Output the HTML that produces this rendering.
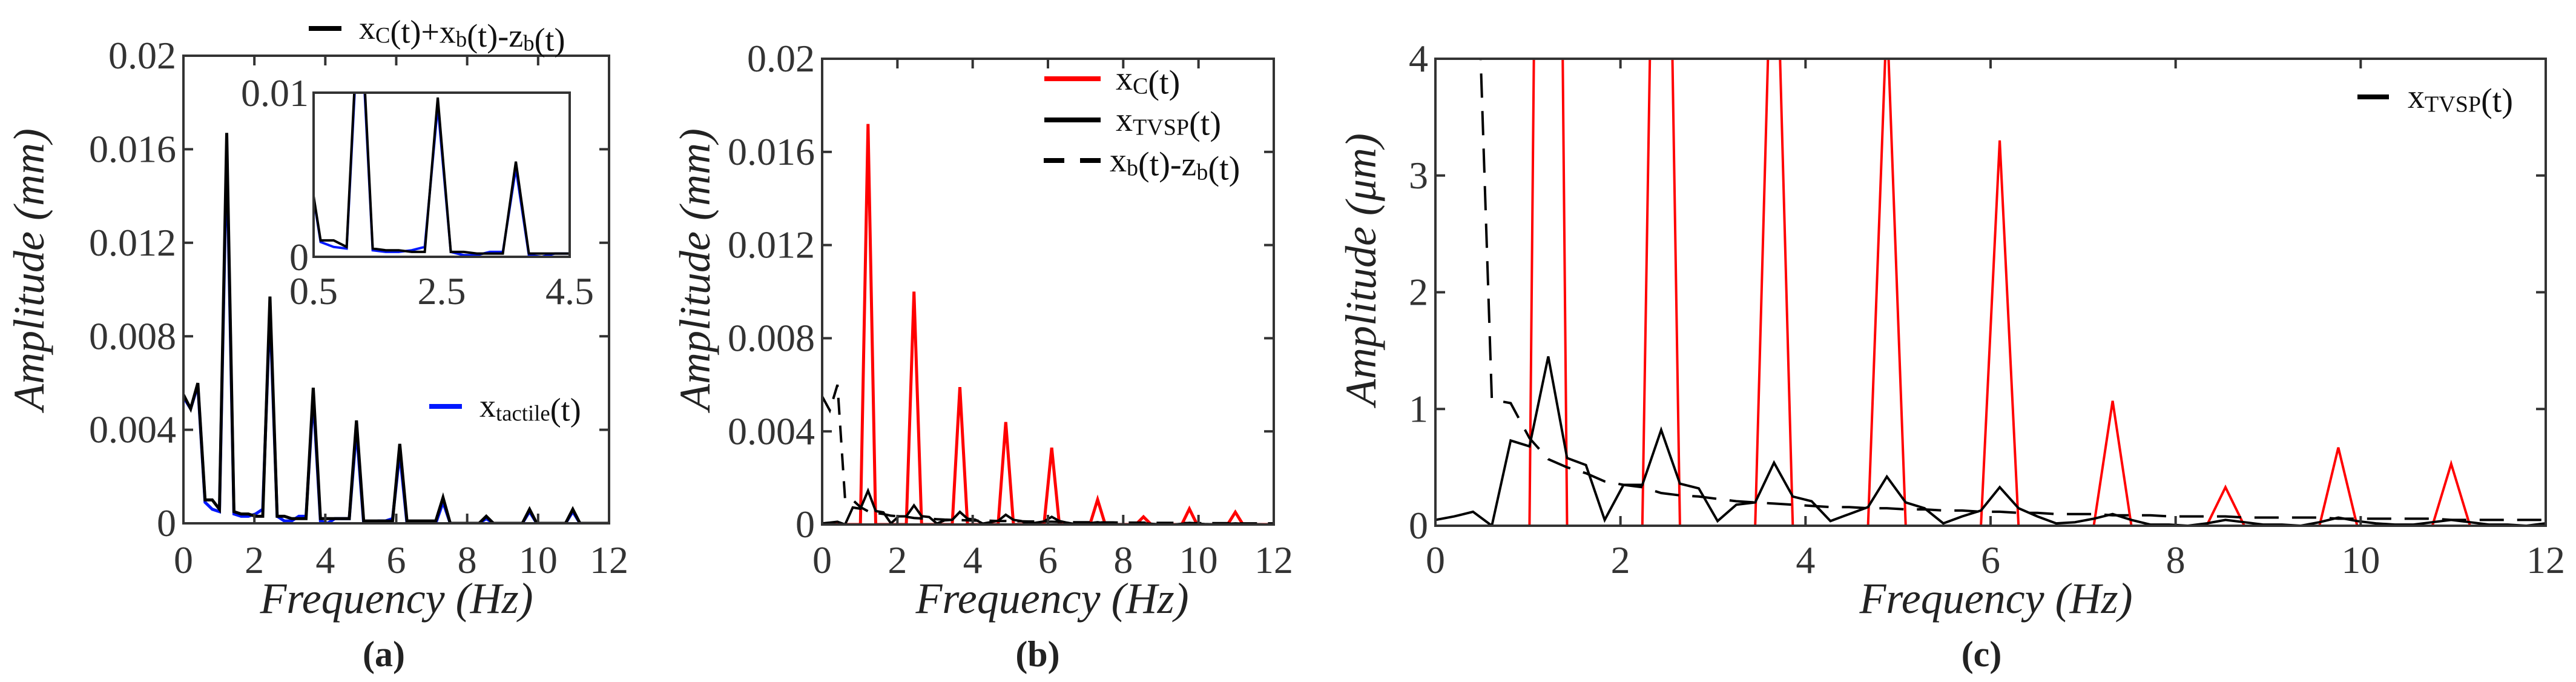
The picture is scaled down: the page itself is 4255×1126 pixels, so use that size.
<!DOCTYPE html>
<html><head><meta charset="utf-8"><style>
html,body{margin:0;padding:0;background:#fff;}
svg{display:block;font-family:"Liberation Serif","DejaVu Serif",serif;}
svg text{font-family:"Liberation Serif","DejaVu Serif",serif;}
</style></head><body>
<svg id="fig" xmlns="http://www.w3.org/2000/svg" width="4255" height="1126" viewBox="0 0 4255 1126"></svg>
<script>
// frequency bins (Hz), step ~0.2033
const binCount = 60;
const binStep = 0.2033;
// panel (a) black: xC+xb-zb (mm)
const sumA = [0.0055,0.0049,0.0060,0.0010,0.0010,0.0006,0.0167,0.0005,0.0004,0.0004,0.0003,0.0003,0.0097,0.0003,0.0003,0.0002,0.0002,0.0002,0.0058,0.0002,0.0002,0.0002,0.0002,0.0002,0.0044,0.0001,0.0001,0.0001,0.0001,0.0001,0.0034,0.0001,0.0001,0.0001,0.0001,0.0001,0.0011,0.0000,0.0000,0.0000,0.0000,0.0000,0.0003,0.0000,0.0000,0.0000,0.0000,0.0000,0.0006,0.0000,0.0000,0.0000,0.0000,0.0000,0.0006,0.0000,0.0000,0.0000,0.0000,0.0000];
// panel (a) blue: x_tactile (mm)
const tactile = [0.0054,0.0049,0.0059,0.0009,0.0006,0.0005,0.0160,0.0004,0.0003,0.0003,0.0004,0.0006,0.0092,0.0003,0.0001,0.0001,0.0003,0.0003,0.0054,0.0001,0.0000,0.0002,0.0002,0.0002,0.0040,0.0000,0.0000,0.0001,0.0001,0.0002,0.0030,0.0000,0.0000,0.0000,0.0000,0.0000,0.0009,0.0000,0.0000,0.0000,0.0000,0.0000,0.0002,0.0000,0.0000,0.0000,0.0000,0.0000,0.0005,0.0000,0.0000,0.0000,0.0000,0.0000,0.0005,0.0000,0.0000,0.0000,0.0000,0.0000];
// xC (µm)
const xc = [0,0,0,0,0,0,17.2,0,0,0,0,0,10.0,0,0,0,0,0,5.9,0,0,0,0,0,4.4,0,0,0,0,0,3.3,0,0,0,0,0,1.07,0,0,0,0,0,0.33,0,0,0,0,0,0.67,0,0,0,0,0,0.53,0,0,0,0,0];
// x_TVSP (µm)
const tvsp = [0.05,0.08,0.12,0.0,0.73,0.68,1.45,0.58,0.52,0.05,0.35,0.35,0.82,0.36,0.32,0.04,0.18,0.2,0.54,0.25,0.21,0.04,0.1,0.16,0.42,0.2,0.15,0.02,0.08,0.13,0.33,0.15,0.08,0.02,0.03,0.06,0.1,0.05,0.01,0.01,0.0,0.02,0.05,0.03,0.01,0.01,0.0,0.03,0.07,0.04,0.02,0.01,0.01,0.03,0.05,0.03,0.01,0.01,0.0,0.02];
// xb - zb (µm)
const xbzb = [5.5,4.9,6.0,1.08,1.05,0.75,0.57,0.5,0.45,0.38,0.35,0.33,0.28,0.26,0.25,0.23,0.21,0.2,0.19,0.18,0.17,0.16,0.16,0.15,0.15,0.14,0.14,0.13,0.13,0.12,0.12,0.11,0.11,0.1,0.1,0.1,0.09,0.09,0.09,0.08,0.08,0.08,0.08,0.07,0.07,0.07,0.07,0.07,0.06,0.06,0.06,0.06,0.06,0.06,0.05,0.05,0.05,0.05,0.05,0.05];
const xTicks = [0,2,4,6,8,10,12];
const yTicksA = ["0","0.004","0.008","0.012","0.016","0.02"];
const yTicksC = ["0","1","2","3","4"];
const insetXTicks = ["0.5","2.5","4.5"];
const insetYTicks = ["0","0.01"];

const NS="http://www.w3.org/2000/svg";
const svg=document.getElementById('fig');
function el(tag,attrs,parent){const e=document.createElementNS(NS,tag);for(const k in attrs)e.setAttribute(k,attrs[k]);(parent||svg).appendChild(e);return e;}
const freqs=[];for(let k=0;k<binCount;k++)freqs.push(k*binStep);

function axes(x0,x1,y0,y1,xmin,xmax,ymin,ymax){
  return {x:v=>x0+(v-xmin)/(xmax-xmin)*(x1-x0), y:v=>y1-(v-ymin)/(ymax-ymin)*(y1-y0), x0,x1,y0,y1};
}
let clipId=0;
function clip(ax){const id='c'+(clipId++);const cp=el('clipPath',{id});el('rect',{x:ax.x0,y:ax.y0-2,width:ax.x1-ax.x0,height:ax.y1-ax.y0+2},cp);return 'url(#'+id+')';}
function series(ax,vals,scale,attrs,name,cl){
  let d='';vals.forEach((v,i)=>{d+=(i?'L':'M')+ax.x(freqs[i]).toFixed(1)+','+ax.y(v*scale).toFixed(1);});
  const p=el('path',Object.assign({d,fill:'none','stroke-linejoin':'miter','clip-path':cl},attrs));
  
  
  return p;
}
function frame(ax,name){
  const r=el('rect',{x:ax.x0,y:ax.y0,width:ax.x1-ax.x0,height:ax.y1-ax.y0,fill:'none',stroke:'#333','stroke-width':4});
  
  
}
function xTicksDraw(ax,ticks,labels,fs,ly,tl,prefix){
  ticks.forEach((t,i)=>{const X=ax.x(t);
    el('line',{x1:X,y1:ax.y1,x2:X,y2:ax.y1-tl,stroke:'#333','stroke-width':4});
    el('line',{x1:X,y1:ax.y0,x2:X,y2:ax.y0+tl,stroke:'#333','stroke-width':4});
    const tx=el('text',{x:X,y:ly,'font-size':fs,'text-anchor':'middle',fill:'#333'});tx.textContent=labels[i];
    
    
  });
}
function yTicksDraw(ax,vals,labels,fs,tl,prefix){
  vals.forEach((v,i)=>{const Y=ax.y(v);
    el('line',{x1:ax.x0,y1:Y,x2:ax.x0+tl,y2:Y,stroke:'#333','stroke-width':4});
    el('line',{x1:ax.x1,y1:Y,x2:ax.x1-tl,y2:Y,stroke:'#333','stroke-width':4});
    const tx=el('text',{x:ax.x0-12,y:Y+fs*0.33,'font-size':fs,'text-anchor':'end',fill:'#333'});tx.textContent=labels[i];
    
    
  });
}
function label(x,y,txt,fs,opts,name){
  const t=el('text',Object.assign({x,y,'font-size':fs,'text-anchor':'middle',fill:'#222'},opts||{}));t.textContent=txt;
  
  
  return t;
}
function richText(x,y,parts,fs,name){
  const t=el('text',{x,y,'font-size':fs,fill:'#111'});
  parts.forEach(p=>{const s=el('tspan',p[1]?{'font-size':fs*0.68,dy:fs*0.12}:{dy:0},t);s.textContent=p[0];
    if(p[1]){const s2=el('tspan',{dy:-fs*0.12,'font-size':fs},t);s2.textContent='';}});
  
  
  return t;
}
function legLine(x1,x2,y,attrs,name){const l=el('line',Object.assign({x1,y1:y,x2,y2:y},attrs));
  
  }

const FS=64;
const TF=72;
// ---------- Panel (a)
const A=axes(303,1006,92,864,0,12,0,0.02);
const ca=clip(A);
series(A,tactile,1,{stroke:'#0018ff','stroke-width':5},'tactile-line-a',ca);
series(A,sumA,1,{stroke:'#000','stroke-width':5},'sum-line-a',ca);
frame(A,'plot-frame-a');
xTicksDraw(A,xTicks,xTicks.map(String),FS,946,16,'a');
yTicksDraw(A,[0,0.004,0.008,0.012,0.016,0.02],yTicksA,FS,16,'a');
label(655,1012,'Frequency (Hz)',TF,{'font-style':'italic'},'x-axis-title-a');
label(0,0,'Amplitude (mm)',TF,{'font-style':'italic',transform:'translate(72,445) rotate(-90)'},'y-axis-title-a');
label(634,1100,'(a)',60,{'font-weight':'bold'},'panel-label-a');
legLine(510,564,47,{stroke:'#000','stroke-width':8},'legend-swatch-sum');
richText(593,64,[['x'],['C',1],['(t)+x'],['b',1],['(t)-z'],['b',1],['(t)']],54,'legend-label-sum');
legLine(709,763,671,{stroke:'#0018ff','stroke-width':8},'legend-swatch-tactile');
richText(792,688,[['x'],['tactile',1],['(t)']],54,'legend-label-tactile');
// inset
const I=axes(518,941,153,424,0.5,4.5,0,0.01);
el('rect',{x:I.x0,y:I.y0,width:I.x1-I.x0,height:I.y1-I.y0,fill:'#fff'});
const ci=clip(I);
series(I,tactile,1,{stroke:'#0018ff','stroke-width':4},'tactile-line-inset',ci);
series(I,sumA,1,{stroke:'#000','stroke-width':4},'sum-line-inset',ci);
frame(I,'inset-frame');
[0.5,2.5,4.5].forEach((v,i)=>{label(I.x(v),502,insetXTicks[i],FS,{fill:'#333'},'inset-x-tick-label');});
[0,0.01].forEach((v,i)=>{label(I.x0-8,I.y(v)+22,insetYTicks[i],FS,{fill:'#333','text-anchor':'end'},'inset-y-tick-label');});

// ---------- Panel (b)
const B=axes(1358,2104,97,866,0,12,0,0.02);
const cb=clip(B);
series(B,xc,0.001,{stroke:'#ff0000','stroke-width':5},'xc-line-b',cb);
series(B,xbzb,0.001,{stroke:'#000','stroke-width':4,'stroke-dasharray':'28,18'},'xbzb-line-b',cb);
series(B,tvsp,0.001,{stroke:'#000','stroke-width':4},'tvsp-line-b',cb);
frame(B,'plot-frame-b');
xTicksDraw(B,xTicks,xTicks.map(String),FS,946,16,'b');
yTicksDraw(B,[0,0.004,0.008,0.012,0.016,0.02],yTicksA,FS,16,'b');
label(1738,1012,'Frequency (Hz)',TF,{'font-style':'italic'},'x-axis-title-b');
label(0,0,'Amplitude (mm)',TF,{'font-style':'italic',transform:'translate(1172,445) rotate(-90)'},'y-axis-title-b');
label(1714,1100,'(b)',60,{'font-weight':'bold'},'panel-label-b');
legLine(1725,1818,130,{stroke:'#ff0000','stroke-width':8},'legend-swatch-xc');
richText(1843,148,[['x'],['C',1],['(t)']],56,'legend-label-xc');
legLine(1725,1818,198,{stroke:'#000','stroke-width':8},'legend-swatch-tvsp');
richText(1843,216,[['x'],['TVSP',1],['(t)']],56,'legend-label-tvsp');
legLine(1724,1818,265,{stroke:'#000','stroke-width':8,'stroke-dasharray':'34,26'},'legend-swatch-xbzb');
richText(1833,283,[['x'],['b',1],['(t)-z'],['b',1],['(t)']],56,'legend-label-xbzb');

// ---------- Panel (c)
const C=axes(2371,4205,97,868,0,12,0,4);
const cc=clip(C);
series(C,xc,1,{stroke:'#ff0000','stroke-width':4},'xc-line-c',cc);
series(C,xbzb,1,{stroke:'#000','stroke-width':4,'stroke-dasharray':'40,22'},'xbzb-line-c',cc);
series(C,tvsp,1,{stroke:'#000','stroke-width':4},'tvsp-line-c',cc);
frame(C,'plot-frame-c');
xTicksDraw(C,xTicks,xTicks.map(String),FS,946,16,'c');
yTicksDraw(C,[0,1,2,3,4],yTicksC,FS,16,'c');
label(3297,1012,'Frequency (Hz)',TF,{'font-style':'italic'},'x-axis-title-c');
label(0,0,'Amplitude (μm)',TF,{'font-style':'italic',transform:'translate(2272,445) rotate(-90)'},'y-axis-title-c');
label(3273,1100,'(c)',60,{'font-weight':'bold'},'panel-label-c');
legLine(3894,3946,160,{stroke:'#000','stroke-width':8},'legend-swatch-tvsp-c');
richText(3977,178,[['x'],['TVSP',1],['(t)']],56,'legend-label-tvsp-c');
</script>
</body></html>
